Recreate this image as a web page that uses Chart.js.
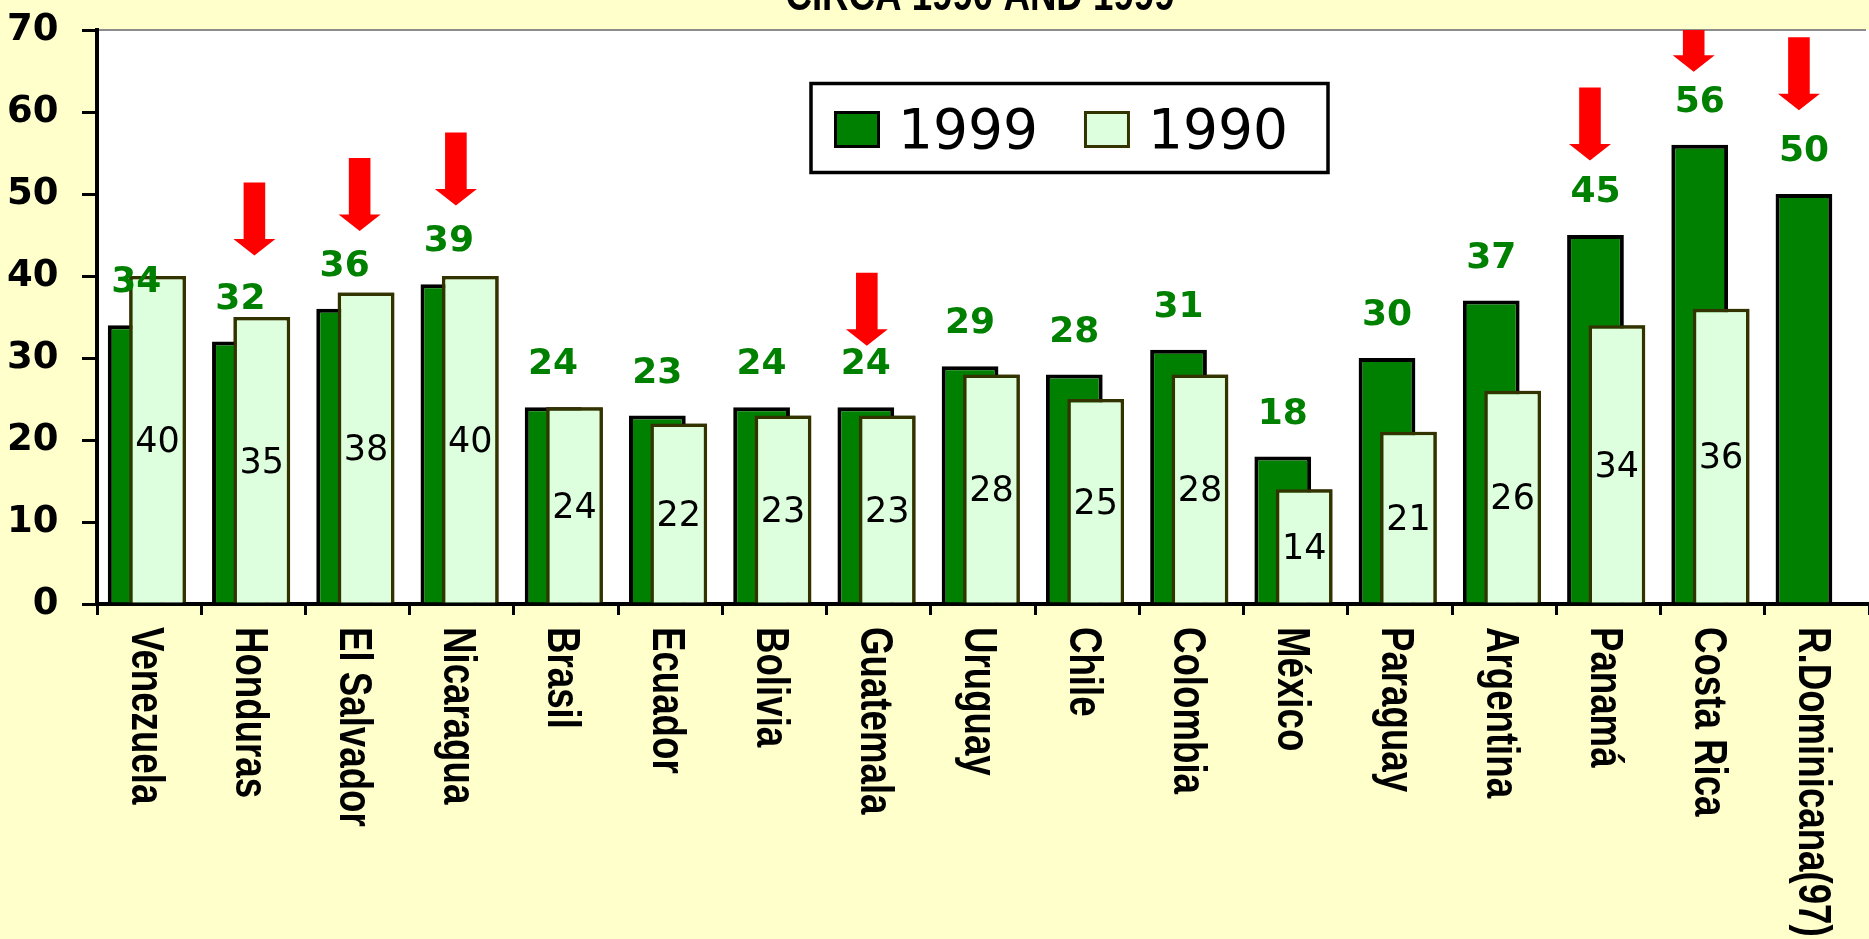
<!DOCTYPE html>
<html>
<head>
<meta charset="utf-8">
<script src="https://cdn.jsdelivr.net/npm/chart.js@4.4.1/dist/chart.umd.min.js"></script>
<style>
html,body{margin:0;padding:0;background:#FFFFCC;overflow:hidden}
canvas{display:block}
</style>
</head>
<body>
<canvas id="c" width="1869" height="939"></canvas>
<script>
// ---- data ----
const titleText = 'CIRCA 1990 AND 1999';
const countries = ['Venezuela','Honduras','El Salvador','Nicaragua','Brasil','Ecuador','Bolivia','Guatemala','Uruguay','Chile','Colombia','México','Paraguay','Argentina','Panamá','Costa Rica','R.Dominicana(97)'];
const seriesLabels = ['1999', '1990'];
const values1999 = [34,32,36,39,24,23,24,24,29,28,31,18,30,37,45,56,50];
const values1990 = [40,35,38,40,24,22,23,23,28,25,28,14,21,26,34,36,null];
const yTicks = [0,10,20,30,40,50,60,70];
// red arrow annotations: tip value on the y axis (null = no arrow)
const arrowTips = [null,42.5,45.5,48.6,null,null,null,31.5,null,null,null,null,null,null,54.1,64.9,60.2];

// ---- styles ----
const COL = { bg:'#FFFFCC', plot:'#FFFFFF', dark:'#008000', light:'#DDFFDD', lightBorder:'#333300', arrow:'#FF0000', frame:'#8C8C8C' };
const arrowShift = [0,14,15,7,0,0,0,1,0,0,0,0,0,0,-5.5,-6,-5];

const backgroundPlugin = {
  id: 'bgPlot',
  beforeDraw(chart) {
    const {ctx, chartArea: ca, width, height} = chart;
    ctx.save();
    ctx.fillStyle = COL.bg;
    ctx.fillRect(0, 0, width, height);
    ctx.fillStyle = COL.plot;
    ctx.fillRect(ca.left, ca.top, width - ca.left, ca.bottom - ca.top);
    ctx.strokeStyle = COL.frame;
    ctx.lineWidth = 2;
    ctx.beginPath();
    ctx.moveTo(ca.left, ca.top);
    ctx.lineTo(width - 3, ca.top);
    ctx.stroke();
    ctx.restore();
  }
};

const overlayPlugin = {
  id: 'overlay',
  afterDatasetsDraw(chart) {
    const {ctx, chartArea: ca} = chart;
    const meta0 = chart.getDatasetMeta(0);
    const meta1 = chart.getDatasetMeta(1);
    // 1990 bars sit in front of the 1999 bars
    meta1.controller.draw();

    ctx.save();
    ctx.textAlign = 'center';
    ctx.textBaseline = 'alphabetic';
    // 1999 values above bars
    const s0 = 36;
    ctx.font = 'bold ' + s0 + 'px "DejaVu Sans"';
    ctx.fillStyle = COL.dark;
    meta0.data.forEach((el, i) => {
      const v = values1999[i];
      if (v == null) return;
      ctx.fillText(String(v), el.x, el.y - 46 + 0.3645 * s0);
    });
    // 1990 values inside bars
    const s1 = 35;
    ctx.font = s1 + 'px "DejaVu Sans"';
    ctx.fillStyle = '#000';
    meta1.data.forEach((el, i) => {
      const v = values1990[i];
      if (v == null) return;
      ctx.fillText(String(v), el.x, (el.y + el.base) / 2 + 0.3645 * s1);
    });
    ctx.restore();

    // red arrows
    const ys = chart.scales.y;
    ctx.save();
    ctx.beginPath();
    ctx.rect(ca.left, ca.top, ca.right - ca.left, ca.bottom - ca.top);
    ctx.clip();
    ctx.fillStyle = COL.arrow;
    const L = 73, hl = 16.5, sw = 10.8, hw = 21;
    arrowTips.forEach((t, i) => {
      if (t == null) return;
      const x = meta0.data[i].x + arrowShift[i];
      const yt = ys.getPixelForValue(t);
      ctx.beginPath();
      ctx.moveTo(x - sw, yt - L);
      ctx.lineTo(x + sw, yt - L);
      ctx.lineTo(x + sw, yt - hl);
      ctx.lineTo(x + hw, yt - hl);
      ctx.lineTo(x, yt);
      ctx.lineTo(x - hw, yt - hl);
      ctx.lineTo(x - sw, yt - hl);
      ctx.closePath();
      ctx.fill();
    });
    ctx.restore();
  },
  afterDraw(chart) {
    const {ctx, chartArea: ca} = chart;
    const xs = chart.scales.x;
    // category labels, rotated to read top-to-bottom
    ctx.save();
    ctx.font = 'bold 47px "Liberation Sans"';
    ctx.fillStyle = '#000';
    ctx.textAlign = 'left';
    ctx.textBaseline = 'alphabetic';
    countries.forEach((lab, i) => {
      const cx = xs.getPixelForTick(i);
      ctx.save();
      ctx.translate(cx - 17.6, ca.bottom + 23);
      ctx.rotate(Math.PI / 2);
      ctx.scale(0.78, 1);
      ctx.fillText(lab, 0, 0);
      ctx.restore();
    });
    ctx.restore();

    // title (only its lower part is inside the picture)
    ctx.save();
    ctx.font = 'bold 47px "Liberation Sans"';
    ctx.fillStyle = '#000';
    ctx.textAlign = 'center';
    ctx.textBaseline = 'alphabetic';
    ctx.translate(980, 9.5);
    ctx.scale(0.78, 1);
    ctx.fillText(titleText, 0, 0);
    ctx.restore();

    // legend box
    ctx.save();
    const bx = 811, by = 83.5, bw = 517, bh = 89;
    ctx.fillStyle = '#fff';
    ctx.fillRect(bx, by, bw, bh);
    ctx.strokeStyle = '#000';
    ctx.lineWidth = 3.5;
    ctx.strokeRect(bx, by, bw, bh);
    ctx.font = '55px "DejaVu Sans"';
    ctx.textAlign = 'left';
    ctx.textBaseline = 'alphabetic';
    let x = 834;
    chart.data.datasets.forEach(ds => {
      ctx.fillStyle = ds.backgroundColor;
      ctx.fillRect(x + 1.5, 112.5, 43, 34);
      ctx.strokeStyle = ds.borderColor;
      ctx.lineWidth = 3;
      ctx.strokeRect(x + 1.5, 112.5, 43, 34);
      ctx.fillStyle = '#000';
      ctx.fillText(ds.label, x + 64, 148);
      x += 64 + ctx.measureText(ds.label).width + 46;
    });
    ctx.restore();
  }
};

new Chart(document.getElementById('c'), {
  type: 'bar',
  data: {
    labels: countries,
    datasets: [
      { label: seriesLabels[0], data: values1999, backgroundColor: COL.dark, borderColor: '#000000', borderWidth: 4,
        categoryPercentage: 0.4967, barPercentage: 2.192 },
      { label: seriesLabels[1], data: values1990, backgroundColor: COL.light, borderColor: COL.lightBorder, borderWidth: 3.5,
        categoryPercentage: 0.3247, barPercentage: 3.353 }
    ]
  },
  options: {
    responsive: false,
    devicePixelRatio: 1,
    animation: false,
    events: [],
    layout: { padding: { top: 30, right: -8, left: 0, bottom: 0 } },
    plugins: { legend: { display: false }, title: { display: false }, tooltip: { enabled: false } },
    scales: {
      x: {
        offset: true,
        z: 1,
        ticks: { display: false },
        grid: { offset: true, drawOnChartArea: false, drawTicks: true, tickLength: 11, color: '#000', lineWidth: 3 },
        border: { color: '#000', width: 4 },
        afterFit: s => { s.height = 335; s.paddingLeft = 0; s.paddingRight = 0; }
      },
      y: {
        min: 0, max: 70,
        z: 1,
        afterBuildTicks: s => { s.ticks = yTicks.map(v => ({ value: v })); },
        ticks: { font: { family: 'DejaVu Sans', weight: 'bold', size: 37 }, color: '#000', padding: 23.5 },
        grid: { drawOnChartArea: false, drawTicks: true, tickLength: 15, color: '#000', lineWidth: 3 },
        border: { color: '#000', width: 4 },
        afterFit: s => { s.width = 97; s.paddingTop = 0; s.paddingBottom = 0; }
      }
    }
  },
  plugins: [backgroundPlugin, overlayPlugin]
});
</script>
</body>
</html>
